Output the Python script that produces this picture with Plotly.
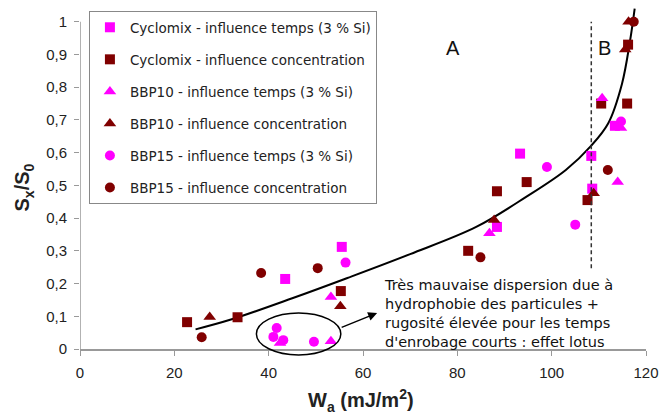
import plotly.graph_objects as go

# ---- data ----
cyclo_temps_x = [43.5, 55.5, 88.4, 93.3, 108.4, 108.6, 113.4]
cyclo_temps_y = [0.214, 0.312, 0.373, 0.597, 0.590, 0.490, 0.682]

cyclo_conc_x = [22.7, 33.4, 55.3, 82.3, 88.4, 94.7, 107.6, 110.5, 116.0, 116.2]
cyclo_conc_y = [0.082, 0.097, 0.177, 0.300, 0.482, 0.510, 0.455, 0.750, 0.750, 0.930]

bbp10_temps_x = [42.4, 53.2, 53.2, 86.8, 110.7, 114.0, 114.7]
bbp10_temps_y = [0.018, 0.024, 0.159, 0.354, 0.766, 0.510, 0.675]

bbp10_conc_x = [27.5, 55.2, 87.8, 108.9, 115.6, 116.3]
bbp10_conc_y = [0.098, 0.131, 0.394, 0.476, 0.915, 1.000]

bbp15_temps_x = [41.0, 41.7, 43.1, 49.6, 56.3, 99.0, 105.0, 114.7]
bbp15_temps_y = [0.037, 0.064, 0.027, 0.022, 0.264, 0.556, 0.380, 0.695]

bbp15_conc_x = [25.8, 38.4, 50.4, 84.9, 111.9, 117.4]
bbp15_conc_y = [0.036, 0.232, 0.247, 0.280, 0.547, 1.000]

# hand-drawn trend curve
curve_x = [24.5, 32, 45, 56.7, 70, 84, 94.5, 103, 108.3, 112, 114.9, 116.6, 117.6]
curve_y = [0.060, 0.090, 0.155, 0.217, 0.290, 0.373, 0.464, 0.547, 0.620, 0.690, 0.810, 0.940, 1.040]

x_ticks = [0, 20, 40, 60, 80, 100, 120]
y_ticks = [0, 0.1, 0.2, 0.3, 0.4, 0.5, 0.6, 0.7, 0.8, 0.9, 1.0]
y_tick_labels = ["0", "0,1", "0,2", "0,3", "0,4", "0,5", "0,6", "0,7", "0,8", "0,9", "1"]

MAGENTA = "#ff00ff"
MAROON = "#800000"
X_RANGE = [0, 120]
Y_RANGE = [0, 1.045]

# plot-area geometry in pixels (666x414 page)
L, R, T, B = 80, 15, 7, 65
PW, PH = 666 - L - R, 414 - T - B

series = [
    ("Cyclomix - influence temps (3 % Si)", cyclo_temps_x, cyclo_temps_y, "square", MAGENTA, 10),
    ("Cyclomix - influence concentration", cyclo_conc_x, cyclo_conc_y, "square", MAROON, 10),
    ("BBP10 - influence temps (3 % Si)", bbp10_temps_x, bbp10_temps_y, "triangle-up", MAGENTA, 11),
    ("BBP10 - influence concentration", bbp10_conc_x, bbp10_conc_y, "triangle-up", MAROON, 11),
    ("BBP15 - influence temps (3 % Si)", bbp15_temps_x, bbp15_temps_y, "circle", MAGENTA, 10),
    ("BBP15 - influence concentration", bbp15_conc_x, bbp15_conc_y, "circle", MAROON, 10),
]

fig = go.Figure()

fig.add_trace(go.Scatter(
    x=curve_x, y=curve_y, mode="lines", showlegend=False,
    line=dict(color="black", width=2, shape="spline", smoothing=1.0),
    hoverinfo="skip",
))

for name, xs, ys, sym, color, size in series:
    fig.add_trace(go.Scatter(
        x=xs, y=ys, mode="markers", name=name, legendgroup=name,
        marker=dict(symbol=sym, color=color, size=size, line=dict(width=0)),
        cliponaxis=False,
    ))


def dom_x(v):
    return (v - X_RANGE[0]) / (X_RANGE[1] - X_RANGE[0])


def dom_y(v):
    return (v - Y_RANGE[0]) / (Y_RANGE[1] - Y_RANGE[0])


def px_x(px):
    return (px - L) / PW


def px_y(py):
    return (414 - B - py) / PH


shapes = [
    # y axis line (only up to 1)
    dict(type="line", xref="x", yref="y", x0=0, x1=0, y0=0, y1=1,
         line=dict(color="#999999", width=1.5)),
    # A / B boundary
    dict(type="line", xref="x", yref="y", x0=108.4, x1=108.4, y0=0.247, y1=1.0,
         line=dict(color="#333333", width=1.5, dash="4px,3px")),
    # ellipse around the lotus-effect points (domain refs -> not clipped)
    dict(type="circle", xref="x domain", yref="y domain",
         x0=dom_x(37.4), x1=dom_x(55.3), y0=dom_y(-0.018), y1=dom_y(0.110),
         line=dict(color="black", width=1.5)),
]

annotations = [
    dict(text="A", x=79, y=0.919, xref="x", yref="y", showarrow=False,
         font=dict(family="Liberation Sans", size=20, color="#111111")),
    dict(text="B", x=111.1, y=0.919, xref="x", yref="y", showarrow=False,
         font=dict(family="Liberation Sans", size=20, color="#111111")),
    dict(text="Très mauvaise dispersion due à<br>hydrophobie des particules +<br>"
              "rugosité élevée pour les temps<br>d'enrobage courts : effet lotus",
         x=64.1, y=0.227, xref="x", yref="y", xanchor="left", yanchor="top",
         align="left", showarrow=False,
         font=dict(family="DejaVu Sans", size=14.5, color="#111111")),
    dict(text="", x=63.0, y=0.110, xref="x", yref="y", showarrow=True,
         ax=-37, ay=15, arrowhead=2, arrowsize=1.2, arrowwidth=1.5, arrowcolor="black"),
    dict(text="<b>S<sub>x</sub>/S<sub>0</sub></b>", x=px_x(23), y=px_y(187),
         xref="paper", yref="paper", xanchor="center", yanchor="middle",
         textangle=-90, showarrow=False,
         font=dict(family="Liberation Sans", size=20, color="#222222")),
    dict(text="<b>W<sub>a</sub> (mJ/m<sup>2</sup>)</b>", x=px_x(363), y=px_y(400),
         xref="paper", yref="paper", xanchor="center", yanchor="middle",
         showarrow=False,
         font=dict(family="Liberation Sans", size=20, color="#222222")),
]

fig.update_layout(
    width=666, height=414,
    margin=dict(l=L, r=R, t=T, b=B),
    paper_bgcolor="white", plot_bgcolor="white",
    font=dict(family="Liberation Sans", color="#222222"),
    shapes=shapes, annotations=annotations,
    legend=dict(
        x=px_x(89), y=px_y(11), xanchor="left", yanchor="top",
        bordercolor="#888888", borderwidth=1, bgcolor="white",
        font=dict(family="DejaVu Sans", size=13.5, color="#222222"),
        tracegroupgap=11.5, itemwidth=30,
    ),
)
fig.update_xaxes(
    range=X_RANGE, tickvals=x_ticks, ticktext=[str(v) for v in x_ticks],
    showline=True, linecolor="#999999", linewidth=1.5,
    ticks="outside", ticklen=5, tickcolor="#999999", ticklabelstandoff=4,
    showgrid=False, zeroline=False,
    tickfont=dict(family="Liberation Sans", size=15, color="#222222"),
)
fig.update_yaxes(
    range=Y_RANGE, tickvals=y_ticks, ticktext=y_tick_labels,
    showline=False, ticks="outside", ticklen=5, tickcolor="#999999", ticklabelstandoff=4,
    showgrid=False, zeroline=False,
    tickfont=dict(family="Liberation Sans", size=15, color="#222222"),
)

# page body has a default 8px margin; drop it so the figure sits at 0,0
fig.write_html(
    "out.html",
    config={"displayModeBar": False},
    post_script="document.body.style.margin = '0';",
)
